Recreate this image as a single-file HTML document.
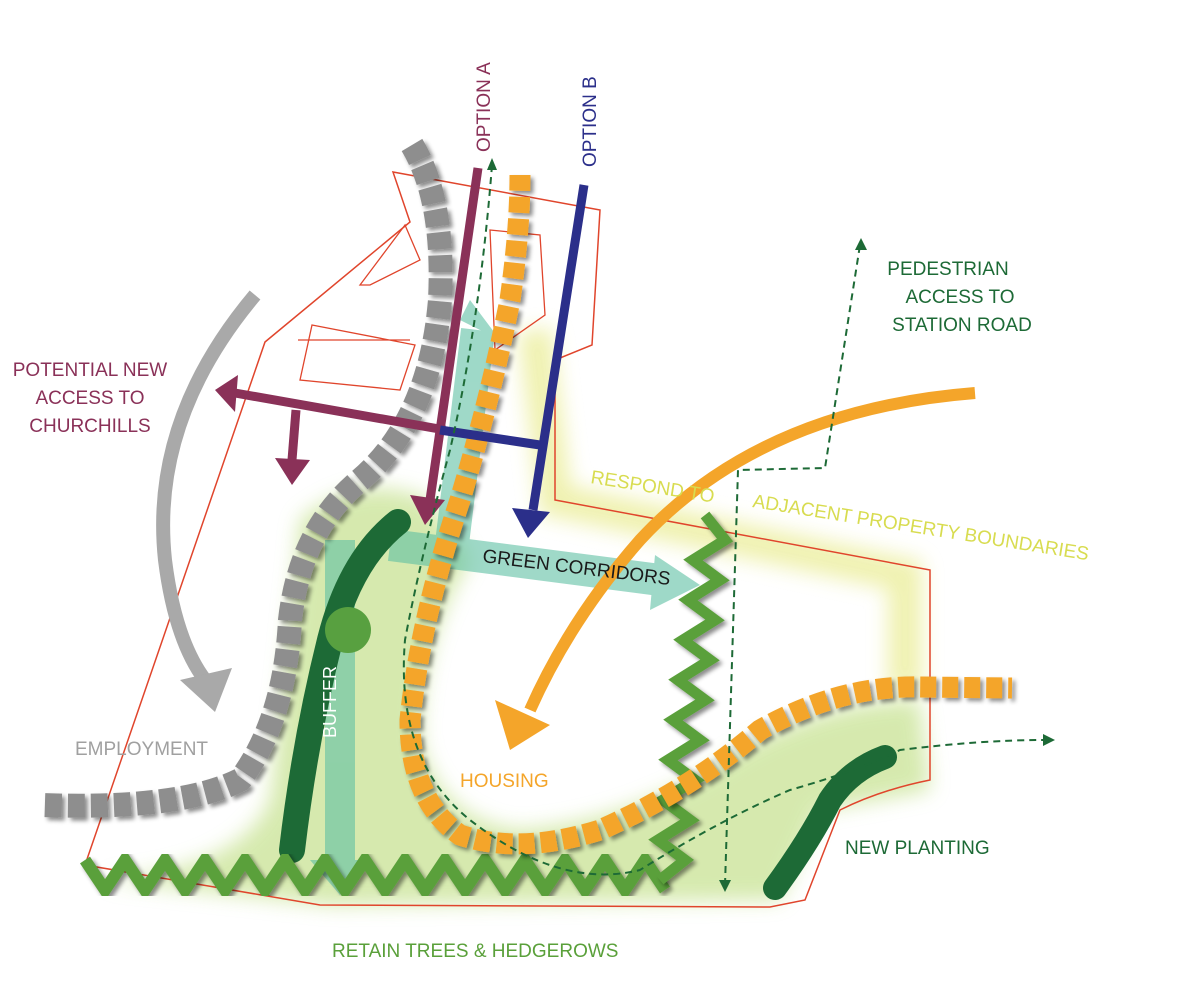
<!DOCTYPE html>
<html><head><meta charset="utf-8"><style>
html,body{margin:0;padding:0;background:#fff;}
svg{display:block;}
text{font-family:"Liberation Sans",sans-serif;}
</style></head><body>
<svg width="1200" height="1000" viewBox="0 0 1200 1000" xmlns="http://www.w3.org/2000/svg">
<defs>
<filter id="blur" x="-20%" y="-20%" width="140%" height="140%"><feGaussianBlur stdDeviation="10"/></filter>
<filter id="sh" x="-20%" y="-20%" width="140%" height="140%"><feDropShadow dx="3" dy="3" stdDeviation="2" flood-color="#000" flood-opacity="0.45"/></filter>
</defs>

<g filter="url(#blur)" opacity="0.85">
<path d="M300,520 Q360,470 430,500 L470,560 Q420,640 420,740 Q440,820 520,830 Q640,820 740,750 Q830,700 920,700 L930,790 Q880,800 820,810 L780,900 L330,905 L100,880 Q240,870 270,800 Q290,640 300,520 Z" fill="#cfe6a0"/>
</g>
<path d="M535,330 L555,500 L905,575 L905,690" fill="none" stroke="#eef0a8" stroke-width="34" filter="url(#blur)" opacity="0.9"/>

<path d="M85,865 L265,342 L410,222 L393,172 L600,210 L592,345 L555,360 L555,500 L930,570 L930,780 Q880,790 840,810 L805,900 L770,907 L320,905 Z" fill="none" stroke="#e0452c" stroke-width="1.5"/>
<path d="M360,285 L405,225 L420,260 L370,285 Z M312,325 L415,345 L400,390 L300,380 Z M298,340 L410,340 M490,230 L540,235 L545,315 L495,350 Z" fill="none" stroke="#e0452c" stroke-width="1.3"/>

<g opacity="0.6">
<path d="M478,330 L450,560" stroke="#5fc0a4" stroke-width="34" fill="none"/>
<path d="M340,540 L340,860" stroke="#5fc0a4" stroke-width="30" fill="none"/>
<polygon points="310,860 370,860 340,895" fill="#5fc0a4"/>
<path d="M390,545 L660,580" stroke="#5fc0a4" stroke-width="32" fill="none"/>
<polygon points="655,555 700,585 650,610" fill="#5fc0a4"/>
<polygon points="460,320 500,340 470,300" fill="#5fc0a4"/>
</g>

<path d="M255,295 Q150,420 165,560 Q175,640 205,680" fill="none" stroke="#a9a9a9" stroke-width="14"/>
<polygon points="180,680 232,668 215,712" fill="#a9a9a9"/>

<path d="M412,145 Q445,200 440,300 Q430,420 360,480 Q300,530 290,620 Q285,720 240,780 Q180,810 40,805" fill="none" stroke="#8e8e8e" stroke-width="24" stroke-dasharray="17,6" filter="url(#sh)"/>

<path d="M398,522 Q350,560 330,640 Q305,740 292,850" fill="none" stroke="#1d6a36" stroke-width="26" stroke-linecap="round"/>
<circle cx="348" cy="630" r="23" fill="#58a040"/>

<path d="M85,860 l20,30 l20,-30 l20,30 l20,-30 l20,30 l20,-30 l20,30 l20,-30 l20,30 l20,-30 l20,30 l20,-30 l20,30 l20,-30 l20,30 l20,-30 l20,30 l20,-30 l20,30 l20,-30 l20,30 l20,-30 l20,30 l20,-30 l20,30 l20,-30 l20,30 l20,-30 l20,30" fill="none" stroke="#5aa03a" stroke-width="12" filter="url(#sh)"/>
<path d="M705,515 l20,25 l-32,20 l27,20 l-32,20 l27,20 l-32,20 l27,20 l-32,20 l27,20 l-32,20 l27,20 l-32,20 l27,20 l-32,20 l27,20 l-32,20 l27,20 l-25,20" fill="none" stroke="#5aa03a" stroke-width="11" filter="url(#sh)"/>

<path d="M520,175 Q520,230 510,300 Q490,400 460,500 Q420,620 410,720 Q410,800 460,835 Q520,855 600,830 Q690,790 760,730 Q840,685 920,687 L1012,688" fill="none" stroke="#f4a52a" stroke-width="21" stroke-dasharray="16,6" filter="url(#sh)"/>

<g fill="#8a3158" stroke="#8a3158">
<path d="M478,168 L430,500" stroke-width="9" fill="none"/>
<polygon points="410,495 445,500 425,525" stroke="none"/>
<path d="M445,430 L235,393" stroke-width="9" fill="none"/>
<polygon points="238,375 215,390 235,412" stroke="none"/>
<path d="M296,410 L292,460" stroke-width="9" fill="none"/>
<polygon points="275,458 310,460 292,485" stroke="none"/>
</g>
<g fill="#2b2f8a" stroke="#2b2f8a">
<path d="M584,185 L533,510" stroke-width="9" fill="none"/>
<polygon points="512,508 550,512 528,538" stroke="none"/>
<path d="M440,430 L540,445" stroke-width="9" fill="none"/>
</g>

<path d="M975,393 Q760,410 640,540 Q570,620 530,710" fill="none" stroke="#f4a52a" stroke-width="12"/>
<polygon points="495,700 550,725 510,750" fill="#f4a52a"/>

<path d="M775,888 Q810,840 830,800 Q850,770 885,757" fill="none" stroke="#1d6a36" stroke-width="24" stroke-linecap="round"/>

<g fill="none" stroke="#1d6a36" stroke-width="2" stroke-dasharray="7,5">
<path d="M492,165 Q480,320 450,450 Q420,560 405,640 Q395,760 470,820 Q560,890 640,870 Q720,820 790,790 Q860,770 900,750 Q980,740 1045,740"/>
<path d="M725,885 L738,470 L825,468 L860,245"/>
</g>
<polygon points="492,158 487,170 497,170" fill="#1d6a36"/>
<polygon points="861,238 855,250 867,250" fill="#1d6a36"/>
<polygon points="1055,740 1043,734 1043,746" fill="#1d6a36"/>
<polygon points="725,892 719,880 731,880" fill="#1d6a36"/>

<text x="490" y="152" transform="rotate(-90 490 152)" font-size="19" fill="#8a3158">OPTION A</text>
<text x="596" y="167" transform="rotate(-90 596 167)" font-size="19" fill="#2b2f8a">OPTION B</text>
<g font-size="19" fill="#1d6a36" text-anchor="middle">
<text x="948" y="275">PEDESTRIAN</text><text x="960" y="303">ACCESS TO</text><text x="962" y="331">STATION ROAD</text>
</g>
<g font-size="19" fill="#8a3158" text-anchor="middle">
<text x="90" y="376">POTENTIAL NEW</text><text x="90" y="404">ACCESS TO</text><text x="90" y="432">CHURCHILLS</text>
</g>
<text x="590" y="483" transform="rotate(9 590 483)" font-size="19" fill="#d8dc50">RESPOND TO</text>
<text x="752" y="507" transform="rotate(9 752 507)" font-size="19" fill="#d8dc50">ADJACENT PROPERTY BOUNDARIES</text>
<text x="482" y="562" transform="rotate(7 482 562)" font-size="19" fill="#1a1a1a">GREEN CORRIDORS</text>
<text x="336" y="738" transform="rotate(-90 336 738)" font-size="18" fill="#ffffff">BUFFER</text>
<text x="75" y="755" font-size="19" fill="#a0a0a0">EMPLOYMENT</text>
<text x="460" y="787" font-size="19" fill="#f4a52a">HOUSING</text>
<text x="845" y="854" font-size="19" fill="#1d6a36">NEW PLANTING</text>
<text x="332" y="957" font-size="19" fill="#5aa03a">RETAIN TREES &amp; HEDGEROWS</text>
</svg>
</body></html>
